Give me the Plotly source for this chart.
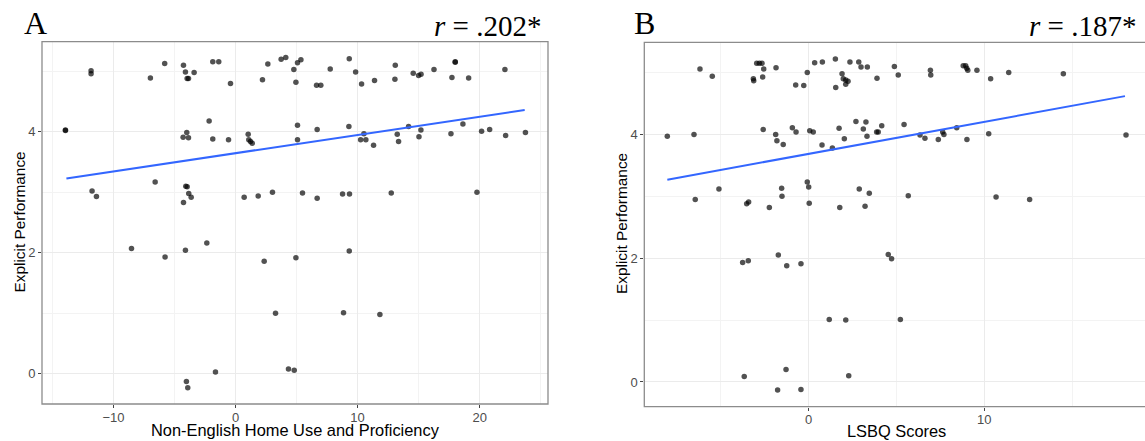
import plotly.graph_objects as go

# ---------------- Data: Panel A ----------------
home_use_x = [-11.83, -11.83, -5.80, -6.97, -4.26, -4.10, -3.96, -3.85, -3.39, -1.86,
              -1.37, -0.41, 2.21, 2.65, 3.74, 4.12, 4.78, 4.95, 5.08, 5.36,
              6.64, 6.99, 7.76, 9.32, 9.84, 10.33, 11.39, 13.09, 13.06, 14.56,
              15.00, 15.20, 16.26, 17.73, 18.00, 18.00, 19.10, 22.07, -13.93, -13.93,
              -2.16, -3.99, -4.29, -3.85, -1.86, -0.57, 1.04, 1.09, 1.23, 1.37,
              5.08, 5.08, 6.69, 9.29, 10.25, 10.68, 10.52, 11.31, 13.25, 13.36,
              14.18, 15.03, 15.19, 17.65, 18.63, 20.16, 20.82, 22.13, 23.75, -6.58,
              -4.07, -3.96, -3.83, -3.63, -4.26, -11.75, -11.39, 0.71, 1.86, 3.03,
              5.49, 6.69, 8.77, 9.34, 12.76, 19.78, -8.52, -5.77, -4.10, -2.35,
              2.35, 4.95, 9.32, 3.28, 8.85, 11.83, 4.34, 4.81, -1.64, -4.02,
              -3.91]
perf_a = [5.01, 4.96, 5.13, 4.89, 5.10, 4.99, 4.88, 4.88, 4.98, 5.16,
          5.16, 4.80, 4.86, 5.12, 5.20, 5.23, 5.03, 4.82, 5.14, 5.19,
          4.77, 4.77, 5.04, 5.21, 4.99, 4.79, 4.85, 5.10, 4.87, 4.97,
          4.93, 4.95, 5.03, 4.90, 5.16, 5.15, 4.89, 5.03, 4.03, 4.02,
          4.18, 3.99, 3.91, 3.90, 3.88, 3.87, 3.96, 3.87, 3.84, 3.81,
          4.11, 3.87, 4.04, 4.09, 3.87, 3.87, 3.97, 3.78, 3.96, 3.84,
          4.09, 3.92, 4.03, 3.97, 4.13, 4.01, 4.04, 3.94, 3.99, 3.17,
          3.10, 3.09, 2.98, 2.92, 2.83, 3.02, 2.93, 2.92, 2.94, 3.00,
          2.99, 2.90, 2.97, 2.97, 2.99, 3.00, 2.07, 1.93, 2.04, 2.16,
          1.86, 1.92, 2.03, 1.00, 1.01, 0.98, 0.08, 0.06, 0.03, -0.13,
          -0.23]
fit_a_x = [-13.85, 23.69]
fit_a_y = [3.23, 4.36]
label_a = "A"
r_a = "<i>r</i> = .202*"
xtitle_a = "Non-English Home Use and Proficiency"

# ---------------- Data: Panel B ----------------
lsbq_x = [-8.05, -6.53, -6.19, -5.49, -5.11, -6.46, -2.96, -2.81, -2.66, -2.56,
          -1.86, -3.15, -3.13, -2.62, -0.08, 0.34, 0.78, -0.74, -0.28, 1.52,
          1.90, 2.35, 2.85, 2.98, 3.34, 1.97, 2.11, 2.24, 2.11, 1.54,
          3.89, 4.88, 5.10, 6.93, 6.95, 8.80, 8.94, 9.06, 9.00, 9.58,
          10.36, 11.39, 14.50, -2.59, -1.88, -1.81, -1.45, -0.93, -0.72, 0.06,
          0.26, 0.76, 1.35, 1.73, 2.03, 2.69, 3.26, 3.11, 3.32, 3.87,
          3.96, 4.16, 5.43, 6.34, 6.62, 7.38, 7.63, 7.70, 8.43, 9.01,
          10.25, 18.07, -0.08, 0.00, -1.54, -1.52, -3.53, -3.42, -2.24, 0.03,
          1.77, 2.88, 3.45, 3.21, 5.67, 10.67, 12.58, -3.76, -3.44, -1.73,
          -1.25, -0.44, 4.53, 4.72, 1.17, 2.11, 5.22, -3.67, -1.29, -1.77,
          -0.44, 2.28]
perf_b = [3.97, 4.00, 5.06, 4.94, 3.12, 2.95, 5.15, 5.15, 5.15, 5.06,
          5.08, 4.90, 4.87, 4.93, 5.00, 5.16, 5.17, 4.80, 4.79, 5.22,
          4.98, 5.17, 5.17, 5.09, 5.09, 4.90, 4.88, 4.86, 4.81, 4.76,
          4.91, 5.10, 4.96, 5.04, 4.96, 5.11, 5.11, 5.04, 5.07, 5.04,
          4.90, 5.00, 4.98, 4.08, 4.00, 3.90, 3.84, 4.11, 4.04, 4.06,
          4.04, 3.83, 3.78, 4.10, 3.93, 4.21, 4.20, 4.09, 3.97, 4.04,
          4.04, 4.14, 4.16, 3.99, 3.94, 3.92, 4.04, 4.00, 4.11, 3.92,
          4.01, 3.99, 3.23, 3.15, 3.13, 3.00, 2.88, 2.91, 2.82, 2.89,
          2.82, 3.12, 3.05, 2.84, 3.01, 2.99, 2.95, 1.93, 1.96, 2.05,
          1.88, 1.91, 2.06, 1.99, 1.01, 1.00, 1.01, 0.09, 0.20, -0.13,
          -0.12, 0.10]
fit_b_x = [-8.05, 18.01]
fit_b_y = [3.27, 4.62]
label_b = "B"
r_b = "<i>r</i> = .187*"
xtitle_b = "LSBQ Scores"
ytitle = "Explicit Performance"

# ---------------- Figure ----------------
W, H = 1145, 441
def fx(px):
    return px / W
def fy(py):
    return 1 - py / H

pt_color = "rgba(0,0,0,0.68)"
line_color = "#3366FF"
sans = "Liberation Sans, Arial, sans-serif"
serif = "Liberation Serif, Times New Roman, serif"

fig = go.Figure()
fig.add_trace(go.Scatter(x=home_use_x, y=perf_a, mode="markers",
                         marker=dict(size=5.5, color=pt_color), xaxis="x", yaxis="y",
                         showlegend=False))
fig.add_trace(go.Scatter(x=fit_a_x, y=fit_a_y, mode="lines",
                         line=dict(color=line_color, width=2), xaxis="x", yaxis="y",
                         showlegend=False))
fig.add_trace(go.Scatter(x=lsbq_x, y=perf_b, mode="markers",
                         marker=dict(size=5.5, color=pt_color), xaxis="x2", yaxis="y2",
                         showlegend=False))
fig.add_trace(go.Scatter(x=fit_b_x, y=fit_b_y, mode="lines",
                         line=dict(color=line_color, width=2), xaxis="x2", yaxis="y2",
                         showlegend=False))

grid_major = "#EBEBEB"
grid_minor = "#F3F3F3"
tickfont = dict(family=sans, size=13, color="#4D4D4D")

def xaxis_cfg(dom, rng, anchor):
    return dict(domain=dom, range=rng, anchor=anchor, dtick=10, tick0=0,
                showgrid=True, gridcolor=grid_major, gridwidth=1,
                minor=dict(dtick=5, tick0=0, showgrid=True, gridcolor=grid_minor, gridwidth=0.8),
                zeroline=False, ticks="outside", ticklen=3, tickcolor="#444", tickwidth=1,
                ticklabelstandoff=-2,
                tickfont=tickfont, showline=False)

def yaxis_cfg(dom, rng, anchor):
    return dict(domain=dom, range=rng, anchor=anchor, dtick=2, tick0=0,
                showgrid=True, gridcolor=grid_major, gridwidth=1,
                minor=dict(dtick=1, tick0=0, showgrid=True, gridcolor=grid_minor, gridwidth=0.8),
                zeroline=False, ticks="outside", ticklen=3, tickcolor="#444", tickwidth=1,
                tickfont=tickfont, showline=False)

fig.update_layout(
    width=W, height=H,
    margin=dict(l=0, r=0, t=0, b=0),
    paper_bgcolor="white", plot_bgcolor="white",
    xaxis=xaxis_cfg([fx(42), fx(548)], [-15.85, 25.6], "y"),
    yaxis=yaxis_cfg([fy(404), fy(41.7)], [-0.50, 5.49], "x"),
    xaxis2=xaxis_cfg([fx(644.3), 1.0], [-9.36, 19.15], "y2"),
    yaxis2=yaxis_cfg([fy(406.7), fy(42.3)], [-0.40, 5.49], "x2"),
)

border = dict(color="#8C8C8C", width=1.3)
fig.add_shape(type="rect", xref="x domain", yref="y domain", x0=0, x1=1, y0=0, y1=1,
              line=border, layer="above")
fig.add_shape(type="rect", xref="x2 domain", yref="y2 domain", x0=0, x1=1.01, y0=0, y1=1,
              line=border, layer="above")

ann = []
ann.append(dict(text=label_a, x=fx(22), y=fy(23), xref="paper", yref="paper",
                xanchor="left", yanchor="middle", showarrow=False,
                font=dict(family=serif, size=32, color="black")))
ann.append(dict(text=label_b, x=fx(632), y=fy(23), xref="paper", yref="paper",
                xanchor="left", yanchor="middle", showarrow=False,
                font=dict(family=serif, size=32, color="black")))
ann.append(dict(text=r_a, x=fx(543), y=fy(26), xref="paper", yref="paper",
                xanchor="right", yanchor="middle", showarrow=False,
                font=dict(family=serif, size=29, color="black")))
ann.append(dict(text=r_b, x=fx(1138), y=fy(26), xref="paper", yref="paper",
                xanchor="right", yanchor="middle", showarrow=False,
                font=dict(family=serif, size=29, color="black")))
ann.append(dict(text=xtitle_a, x=fx(295), y=fy(430), xref="paper", yref="paper",
                xanchor="center", yanchor="middle", showarrow=False,
                font=dict(family=sans, size=16.4, color="black")))
ann.append(dict(text=xtitle_b, x=fx(896.6), y=fy(431), xref="paper", yref="paper",
                xanchor="center", yanchor="middle", showarrow=False,
                font=dict(family=sans, size=16.4, color="black")))
ann.append(dict(text=ytitle, x=fx(19), y=fy(222.5), xref="paper", yref="paper",
                xanchor="center", yanchor="middle", showarrow=False, textangle=-90,
                font=dict(family=sans, size=15.4, color="black")))
ann.append(dict(text=ytitle, x=fx(621.5), y=fy(223.5), xref="paper", yref="paper",
                xanchor="center", yanchor="middle", showarrow=False, textangle=-90,
                font=dict(family=sans, size=15.4, color="black")))
fig.update_layout(annotations=ann)

fig.write_html("out.html", config={"displayModeBar": False})

# remove the browser's default 8px body margin so the figure fills the window exactly
with open("out.html", "r", encoding="utf-8") as f:
    html = f.read()
html = html.replace("<body>", '<body style="margin:0;padding:0;overflow:hidden;">', 1)
with open("out.html", "w", encoding="utf-8") as f:
    f.write(html)
